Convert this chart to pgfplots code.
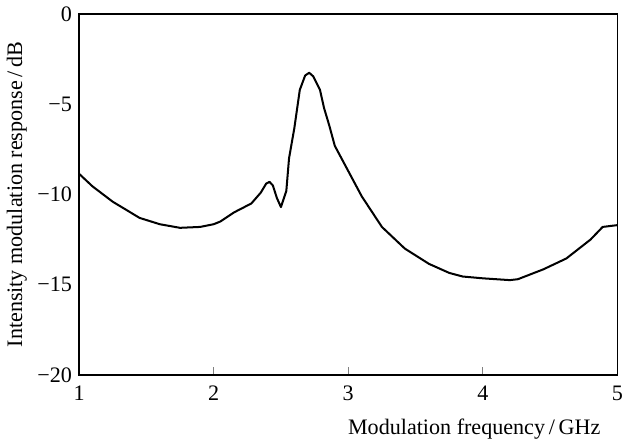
\documentclass[border=0pt]{standalone}
\usepackage{pgfplots}
\pgfplotsset{compat=1.18}
\usepackage{fontspec}
\setmainfont{Liberation Serif}

\pgfplotstableread{
f     r
1.00  -8.85
1.10  -9.55
1.25  -10.40
1.45  -11.30
1.60  -11.65
1.75  -11.85
1.90  -11.80
2.00  -11.65
2.05  -11.50
2.15  -11.00
2.28  -10.50
2.35  -9.90
2.39  -9.40
2.415 -9.30
2.44  -9.50
2.47  -10.20
2.50  -10.70
2.54  -9.80
2.56  -8.00
2.60  -6.30
2.64  -4.20
2.68  -3.40
2.71  -3.25
2.74  -3.45
2.79  -4.20
2.82  -5.20
2.86  -6.20
2.90  -7.30
3.00  -8.70
3.10  -10.10
3.25  -11.80
3.42  -13.00
3.60  -13.85
3.75  -14.35
3.85  -14.55
4.00  -14.65
4.20  -14.75
4.26  -14.70
4.45  -14.15
4.62  -13.55
4.80  -12.50
4.89  -11.80
5.00  -11.70
}\response

\begin{document}
\begin{tikzpicture}
\begin{axis}[
  scale only axis,
  width=268pt, height=179.5pt,
  xmin=1, xmax=5, ymin=-20, ymax=0,
  axis line style={line width=0.75pt},
  xtick={1,2,3,4,5},
  xtick pos=bottom,
  xtick align=inside,
  major tick length=4pt,
  xtick style={line width=0.6pt},
  ytick={-20,-15,-10,-5,0},
  yticklabels={−20,−15,−10,−5,0},
  ytick style={draw=none},
  xticklabel style={yshift=-2pt, inner xsep=0pt},
  /pgf/number format/assume math mode=true,
  tick label style={font=\fontsize{11}{13}\selectfont},
  label style={font=\fontsize{11}{13}\selectfont},
  xlabel={Modulation frequency\,/\,GHz},
  xlabel style={at={(rel axis cs:1,0)}, anchor=north east, yshift=-18.5pt, xshift=-5pt},
  ylabel={Intensity modulation response\,/\,dB},
  ylabel style={at={(rel axis cs:0,0.5)}, anchor=center, yshift=31pt},
]
\addplot[black, line width=1pt, line join=round] table[x=f, y=r] {\response};
\end{axis}
\end{tikzpicture}
\end{document}
